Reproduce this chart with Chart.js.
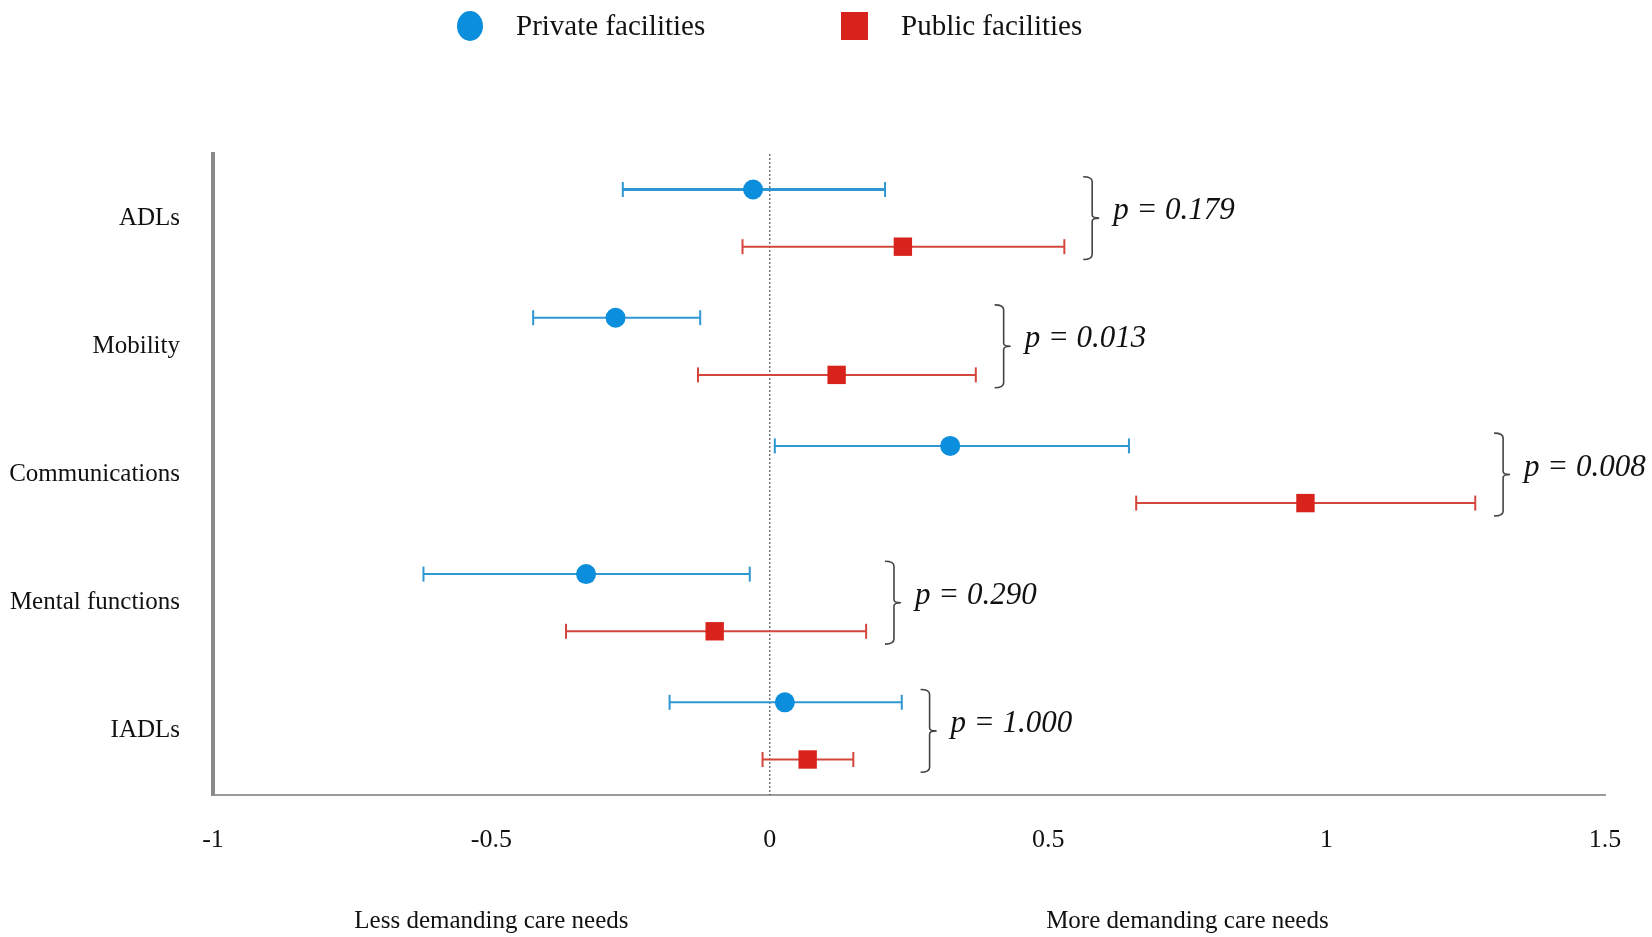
<!DOCTYPE html>
<html>
<head>
<meta charset="utf-8">
<title>Care needs: private vs public facilities</title>
<script src="https://cdn.jsdelivr.net/npm/chart.js@4.4.1/dist/chart.umd.min.js"></script>
<style>
  html, body { margin: 0; padding: 0; background: #fff; }
  canvas { display: block; }
</style>
</head>
<body>
<canvas id="chart" width="1652" height="937"></canvas>
<script>
// Data
const categories = ['ADLs', 'Mobility', 'Communications', 'Mental functions', 'IADLs'];
const privateEst  = [-0.030, -0.277, 0.324, -0.330, 0.027];
const privateLow  = [-0.264, -0.425, 0.009, -0.622, -0.180];
const privateHigh = [0.207, -0.125, 0.645, -0.036, 0.237];
const publicEst   = [0.239, 0.120, 0.962, -0.099, 0.068];
const publicLow   = [-0.049, -0.129, 0.658, -0.366, -0.013];
const publicHigh  = [0.529, 0.370, 1.267, 0.173, 0.150];
const pValues = ['0.179', '0.013', '0.008', '0.290', '1.000'];
const xTicks = [-1, -0.5, 0, 0.5, 1, 1.5];
const xTickLabels = ['-1', '-0.5', '0', '0.5', '1', '1.5'];
const sideNotes = ['Less demanding care needs', 'More demanding care needs'];
const sideNoteAt = [-0.5, 0.75];
const seriesNames = ['Private facilities', 'Public facilities'];

const SERIF = "'Liberation Serif', 'Times New Roman', 'DejaVu Serif', serif";
const BLUE = '#0b8edb';
const BLUE_LINE = '#2f97d2';
const RED = '#d8231c';
const RED_LINE = '#d4463d';
const OFFSET = 0.223; // vertical shift of each series inside a category

// confidence interval rows, drawn as two-point lines with bar caps
function ciDatasets(low, high, shift, color, widths) {
  return categories.map((c, i) => ({
    type: 'line',
    data: [{ x: low[i], y: i + shift }, { x: high[i], y: i + shift }],
    borderColor: color,
    borderWidth: widths[i],
    pointStyle: 'line',
    rotation: 90,
    pointRadius: 7.5,
    pointBorderWidth: 2,
    pointBorderColor: color,
    order: 2
  }));
}

const datasets = [
  {
    type: 'scatter',
    label: seriesNames[0],
    data: privateEst.map((v, i) => ({ x: v, y: i - OFFSET })),
    pointStyle: 'circle',
    pointRadius: 10,
    pointBackgroundColor: BLUE,
    pointBorderWidth: 0,
    order: 0
  },
  {
    type: 'scatter',
    label: seriesNames[1],
    data: publicEst.map((v, i) => ({ x: v, y: i + OFFSET })),
    pointStyle: 'rect',
    pointRadius: 13,
    pointBackgroundColor: RED,
    pointBorderWidth: 0,
    order: 0
  },
  ...ciDatasets(privateLow, privateHigh, -OFFSET, BLUE_LINE, [3, 2, 2, 2, 2]),
  ...ciDatasets(publicLow, publicHigh, OFFSET, RED_LINE, [2, 2, 2, 2, 2]),
  {
    // reference line at zero
    type: 'line',
    data: [{ x: 0, y: -0.5 }, { x: 0, y: 4.5 }],
    borderColor: '#333',
    borderWidth: 1,
    borderDash: [2, 2],
    pointRadius: 0,
    order: 3
  }
];

// brackets with p values, legend and the two notes under the axis
const annotations = {
  id: 'annotations',
  afterDatasetsDraw(chart) {
    const { ctx, scales: { x, y } } = chart;
    ctx.save();
    ctx.strokeStyle = '#444';
    ctx.lineWidth = 1.6;
    ctx.fillStyle = '#111';
    ctx.font = 'italic 31px ' + SERIF;
    ctx.textBaseline = 'middle';
    categories.forEach((c, i) => {
      const bx = x.getPixelForValue(Math.max(privateHigh[i], publicHigh[i]) + 0.05);
      const top = y.getPixelForValue(i - OFFSET - 0.1);
      const bot = y.getPixelForValue(i + OFFSET + 0.1);
      const mid = (top + bot) / 2;
      ctx.beginPath();
      ctx.moveTo(bx - 9, top);
      ctx.quadraticCurveTo(bx, top, bx, top + 5);
      ctx.lineTo(bx, mid - 3);
      ctx.quadraticCurveTo(bx, mid, bx + 7, mid);
      ctx.quadraticCurveTo(bx, mid, bx, mid + 3);
      ctx.lineTo(bx, bot - 5);
      ctx.quadraticCurveTo(bx, bot, bx - 9, bot);
      ctx.stroke();
      ctx.fillText('p = ' + pValues[i], bx + 21, mid - 7);
    });
    ctx.restore();
  },
  afterDraw(chart) {
    const { ctx, scales: { x } } = chart;
    ctx.save();
    // legend
    ctx.fillStyle = BLUE;
    ctx.beginPath();
    ctx.ellipse(470, 26, 13, 15, 0, 0, Math.PI * 2);
    ctx.fill();
    ctx.fillStyle = RED;
    ctx.fillRect(841, 12, 27, 28);
    ctx.fillStyle = '#111';
    ctx.font = '29px ' + SERIF;
    ctx.textBaseline = 'middle';
    ctx.fillText(seriesNames[0], 516, 27);
    ctx.fillText(seriesNames[1], 901, 27);
    // notes below the x axis
    ctx.font = '25px ' + SERIF;
    ctx.textAlign = 'center';
    sideNotes.forEach((t, i) => {
      ctx.fillText(t, x.getPixelForValue(sideNoteAt[i]), 921);
    });
    ctx.restore();
  }
};

new Chart(document.getElementById('chart'), {
  type: 'scatter',
  data: { datasets },
  options: {
    responsive: false,
    animation: false,
    events: [],
    layout: { padding: { top: 154, right: 47, left: 0, bottom: 0 } },
    plugins: {
      legend: { display: false },
      tooltip: { enabled: false }
    },
    scales: {
      x: {
        type: 'linear',
        min: -1,
        max: 1.5,
        afterBuildTicks: s => { s.ticks = xTicks.map(v => ({ value: v })); },
        afterFit: s => { s.height = 142; },
        ticks: {
          callback: (v, i) => xTickLabels[i],
          autoSkip: false,
          maxRotation: 0,
          padding: 30,
          color: '#111',
          font: { family: SERIF, size: 26 }
        },
        grid: { display: false, drawTicks: false },
        border: { color: '#9a9a9a', width: 2 }
      },
      y: {
        type: 'linear',
        min: -0.5,
        max: 4.5,
        reverse: true,
        afterBuildTicks: s => { s.ticks = categories.map((c, i) => ({ value: i })); },
        afterFit: s => { s.width = 213; },
        ticks: {
          callback: v => categories[v],
          autoSkip: false,
          padding: 33,
          color: '#111',
          font: { family: SERIF, size: 25 }
        },
        grid: { display: false, drawTicks: false },
        border: { color: '#8a8a8a', width: 4 }
      }
    }
  },
  plugins: [annotations]
});
</script>
</body>
</html>
